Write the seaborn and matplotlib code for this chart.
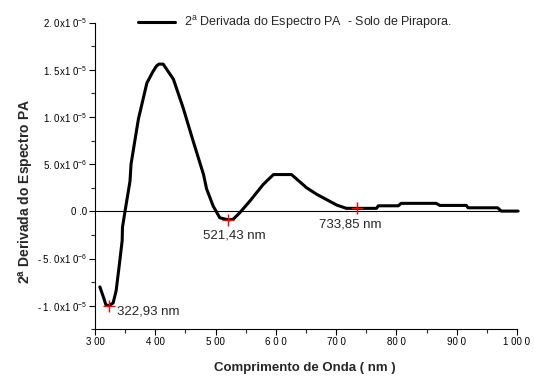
import matplotlib
matplotlib.use("Agg")
import matplotlib.pyplot as plt
import seaborn as sns
import pandas as pd
from matplotlib.ticker import MultipleLocator, FixedLocator

wavelength = [308, 314, 318, 322.93, 330, 335, 340, 345, 345.5, 349.7, 358, 359.7, 372, 386,
              396, 402, 406, 413, 430, 446, 463, 480, 485, 496, 507, 521.43, 529, 540, 557, 579,
              596, 626, 651, 668, 701, 717, 733.85, 767, 770, 803, 808, 866, 872, 916, 919,
              968, 974, 1002]
deriv = [-8.0e-6, -9.1e-6, -9.9e-6, -1.0e-5, -9.7e-6, -8.4e-6, -5.8e-6, -3.1e-6, -1.7e-6,
         0.0, 3.2e-6, 5.0e-6, 9.8e-6, 1.36e-5,
         1.48e-5, 1.54e-5, 1.56e-5, 1.56e-5, 1.40e-5, 1.10e-5, 7.4e-6, 3.9e-6, 2.4e-6, 5.6e-7,
         -6.8e-7, -9.0e-7, -8.5e-7, -1.5e-7, 1.1e-6, 2.85e-6,
         3.9e-6, 3.9e-6, 2.5e-6, 1.8e-6, 6.7e-7, 3.2e-7, 3.2e-7, 3.2e-7, 5.9e-7, 5.9e-7,
         8.5e-7, 8.5e-7, 6.3e-7, 6.3e-7, 3.8e-7,
         3.8e-7, 3.0e-8, 3.0e-8]

peak_x = [322.93, 521.43, 733.85]
peak_y = [-1.0e-5, -9.0e-7, 3.2e-7]
peak_labels = ["322,93 nm", "521,43 nm", "733,85 nm"]

x_ticks = [300, 400, 500, 600, 700, 800, 900, 1000]
x_ticklabels = ["3 00", "4 00", "5 00", "6 0 0", "70 0", "80 0", "90 0", "1 00 0"]
y_ticks = [-1.0e-5, -5.0e-6, 0.0, 5.0e-6, 1.0e-5, 1.5e-5, 2.0e-5]
y_ticklabels = [r"- 1. 0x1 0$^{-5}$", r"- 5. 0x1 0$^{-6}$", "0 .0", r"5. 0x1 0$^{-6}$",
                r"1. 0x1 0$^{-5}$", r"1. 5x1 0$^{-5}$", r"2. 0x1 0$^{-5}$"]

legend_label = r"2$^{\mathrm{a}}$ Derivada do Espectro PA  - Solo de Pirapora."
xlabel = "Comprimento de Onda ( nm )"
ylabel = r"$\mathbf{2^{a}}$ Derivada do Espectro PA"

sns.set_theme(style="ticks")
plt.rcParams["font.family"] = ["Liberation Sans", "DejaVu Sans"]
plt.rcParams["mathtext.fontset"] = "custom"
plt.rcParams["mathtext.rm"] = "Liberation Sans"
plt.rcParams["mathtext.bf"] = "Liberation Sans:bold"

fig = plt.figure(figsize=(5.34, 3.76), dpi=100)
ax = fig.add_axes([0.178, 0.124, 0.790, 0.816])

df = pd.DataFrame({"wl": wavelength, "d2": deriv})
sns.lineplot(data=df, x="wl", y="d2", ax=ax, color="black", linewidth=2.2,
             label=legend_label, sort=False, clip_on=False)
ax.axhline(0, color="black", linewidth=0.8, zorder=1)
ax.plot(peak_x, peak_y, linestyle="none", marker="+", color="red", markersize=8,
        markeredgewidth=1.0, zorder=5)

offsets = [(6, -4), (-18, -11), (-27, -11.5)]
for px, py, lab, off in zip(peak_x, peak_y, peak_labels, offsets):
    ax.annotate(lab, (px, py), xytext=off, textcoords="offset points",
                fontsize=9.5, ha="left", va="center")

ax.set_xlim(300, 1000)
ax.set_ylim(-1.25e-5, 2.0e-5)
ax.xaxis.set_major_locator(FixedLocator(x_ticks))
ax.set_xticklabels(x_ticklabels, fontsize=7)
ax.xaxis.set_minor_locator(MultipleLocator(50))
ax.yaxis.set_major_locator(FixedLocator(y_ticks))
ax.set_yticklabels(y_ticklabels, fontsize=7)
ax.yaxis.set_minor_locator(MultipleLocator(2.5e-6))
ax.tick_params(which="major", length=4, width=0.8, direction="out", colors="black")
ax.tick_params(which="minor", length=3, width=0.8, direction="out")
ax.tick_params(axis="x", which="major", pad=1.5)
ax.tick_params(axis="y", which="major", pad=1.5)
sns.despine(ax=ax)
for s in ["left", "bottom"]:
    ax.spines[s].set_linewidth(0.8)
    ax.spines[s].set_color("black")

ax.set_xlabel(xlabel, fontsize=9.5, fontweight="bold")
ax.set_ylabel(ylabel, fontsize=10, fontweight="bold")
ax.xaxis.set_label_coords(0.498, -0.107)
ax.yaxis.set_label_coords(-0.14, 0.45)

leg = ax.legend(loc="center left", bbox_to_anchor=(0.089, 1.0), frameon=False,
                fontsize=9, handlelength=3.0, handletextpad=0.7, borderaxespad=0)
fig.savefig("out.png", dpi=100)
